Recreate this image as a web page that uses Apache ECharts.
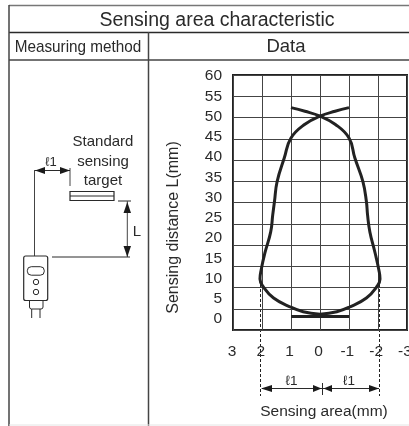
<!DOCTYPE html>
<html><head><meta charset="utf-8">
<style>html,body{margin:0;padding:0;background:#fff}#c{width:409px;height:426px}</style>
<script src="https://cdn.jsdelivr.net/npm/echarts@6/dist/echarts.min.js"></script>
</head><body><div id="c"></div>
<script>
var titleText = 'Sensing area characteristic';
var methodHeader = 'Measuring method';
var dataHeader = 'Data';
var yName = 'Sensing distance L(mm)';
var xName = 'Sensing area(mm)';
var yTicks = [0,5,10,15,20,25,30,35,40,45,50,55,60];
var xTicks = [3,2,1,0,-1,-2,-3];
// [sensing area, sensing distance]
var curveRight = [[1,52.2],[0.52,51.3],[0,50.1],[-0.52,48.1],[-1,44.7],[-1.2,39.8],[-1.48,33.9],[-1.6,29],[-1.64,25.7],[-1.72,21.5],[-1.9,16.3],[-2.03,12.1],[-2.07,9.9],[-1.97,8.1],[-1.6,5.2],[-1,2.9],[-0.58,1.8],[0,1.15]];
var curveLeft = [[-1,52.2],[-0.52,51.3],[0,50.1],[0.52,48.1],[1,44.7],[1.23,39.8],[1.48,33.9],[1.57,29],[1.63,25.7],[1.7,21.5],[1.9,16.3],[2.03,12.1],[2.07,9.9],[1.97,8.1],[1.6,5.2],[1,2.9],[0.58,1.8],[0,1.15]];
var baseLine = [[1,0.6],[-1,0.6]];

var INK = '#2a2a2a';
function ln(x1,y1,x2,y2,w,c,dash){return {type:'line',silent:true,shape:{x1:x1,y1:y1,x2:x2,y2:y2},style:{stroke:c||INK,lineWidth:w||1,lineDash:dash||null}};}
function tri(p){return {type:'polygon',silent:true,shape:{points:p},style:{fill:'#1a1a1a'}};}
function txt(x,y,s,size,rot,sx){return {type:'text',silent:true,x:x,y:y,rotation:rot||0,scaleX:sx||1,style:{text:s,x:0,y:0,fill:INK,font:size+'px "Liberation Sans"',align:'center',verticalAlign:'middle'}};}
function rect(x,y,w,h,r,lw){return {type:'rect',silent:true,shape:{x:x,y:y,width:w,height:h,r:r||0},style:{fill:'#fff',stroke:INK,lineWidth:lw||1}};}
function circ(x,y,r){return {type:'circle',silent:true,shape:{cx:x,cy:y,r:r},style:{fill:'#fff',stroke:INK,lineWidth:1}};}

var graphics = [
  // table
  ln(9,5.5,409,5.5,1.5,'#777'), ln(9,32.5,409,32.5,1.5), ln(9,60,409,60,1.5,'#444'),
  ln(9,5,9,426,1.5,'#444'), ln(148.5,32,148.5,426,1.5,'#444'), ln(9,425,409,425,1,'#e4e4e4'),
  txt(78,47,methodHeader,17,0,0.9), txt(286,47,dataHeader,18.5),
  txt(174,227.5,yName,16,Math.PI/2), txt(324,412,xName,15.5),
  // chart annotations
  ln(260.5,284,260.5,396,1,'#222',[3,2]), ln(379.5,284,379.5,396,1,'#222',[3,2]),
  ln(262,388.5,379,388.5,1), ln(322.5,383,322.5,395,1),
  tri([[261,388.5],[272,385],[272,392]]), tri([[321.5,388.5],[313,385],[313,392]]),
  tri([[323.5,388.5],[332,385],[332,392]]), tri([[379,388.5],[369,385],[369,392]]),
  txt(291.5,381,'\u21131',13.5), txt(349,381,'\u21131',13.5),
  // measuring method diagram
  ln(34.5,170,34.5,256,1,'#444'), ln(70,168,70,186,1,'#444'), ln(35,170.5,70,170.5,1),
  tri([[35,170.5],[45,167],[45,174]]), tri([[70,170.5],[60,167],[60,174]]),
  txt(51,162,'\u21131',13),
  txt(103,141.5,'Standard',15), txt(103,161.5,'sensing',15), txt(103,180.5,'target',15),
  rect(70,191.5,44,9,0,1.2), ln(70,196,114,196,1),
  ln(118,201,131,201,1), ln(127.3,201,127.3,257,1,'#444'), ln(52,257,130,257,1),
  tri([[127.3,202],[123.5,213],[131,213]]), tri([[127.3,257],[123.5,246],[131,246]]),
  txt(137,232,'L',15),
  rect(29.5,296,13.5,13,2,1), ln(31.7,309,31.7,318,1), ln(40,309,40,318,1),
  rect(23.7,256,24,44.5,2,1.2), rect(27.3,266.7,17,8.5,4,1),
  circ(36,282,2.7), circ(36,292,2.7)
];

function emptyY(i,show){return {gridIndex:i,type:'value',min:0,max:60,interval:5,axisLine:{show:false},axisTick:{show:false},axisLabel:{show:false},splitLine:{show:false}};}
function emptyX(i){return {gridIndex:i,type:'value',min:-3,max:3,interval:1,inverse:true,axisLine:{show:false},axisTick:{show:false},axisLabel:{show:false},splitLine:{show:false}};}
function curve(name,d){return {name:name,type:'line',data:d,xAxisIndex:0,yAxisIndex:0,symbol:'none',smooth:0.45,z:5,lineStyle:{color:'#222',width:3},clip:false};}

var x0=emptyX(0), x1=emptyX(1), x2=emptyX(2), y0=emptyY(0), y1=emptyY(1), y2=emptyY(2);
y0.axisLabel={show:true,margin:11,color:INK,fontFamily:'Liberation Sans',fontSize:15.5,formatter:function(v){return yTicks.indexOf(v)>=0?String(v):'';}};
x1.splitLine={show:true,lineStyle:{color:'#444',width:1}};
y1.splitLine={show:true,lineStyle:{color:'#444',width:1}};
x2.axisLabel={show:true,margin:25,color:INK,fontFamily:'Liberation Sans',fontSize:15.5,hideOverlap:false,showMinLabel:true,showMaxLabel:true,formatter:function(v){return xTicks.indexOf(v)>=0?String(v):'';}};

echarts.init(document.getElementById('c'),null,{renderer:'canvas'}).setOption({
  animation:false,
  backgroundColor:'#fff',
  title:{text:titleText,left:212,top:6,textAlign:'center',textStyle:{color:INK,fontFamily:'Liberation Sans',fontWeight:'normal',fontSize:19.5}},
  grid:[
    {left:233,width:174,top:76,height:243,outerBoundsMode:'none'},
    {left:233,width:174,top:75,height:255,show:true,borderColor:'#222',borderWidth:2,backgroundColor:'transparent',outerBoundsMode:'none'},
    {left:232,width:173,top:76,height:243,outerBoundsMode:'none'}
  ],
  xAxis:[x0,x1,x2],
  yAxis:[y0,y1,y2],
  series:[curve('Right',curveRight),curve('Left',curveLeft),curve('Base',baseLine)],
  graphic:graphics
});
</script></body></html>
